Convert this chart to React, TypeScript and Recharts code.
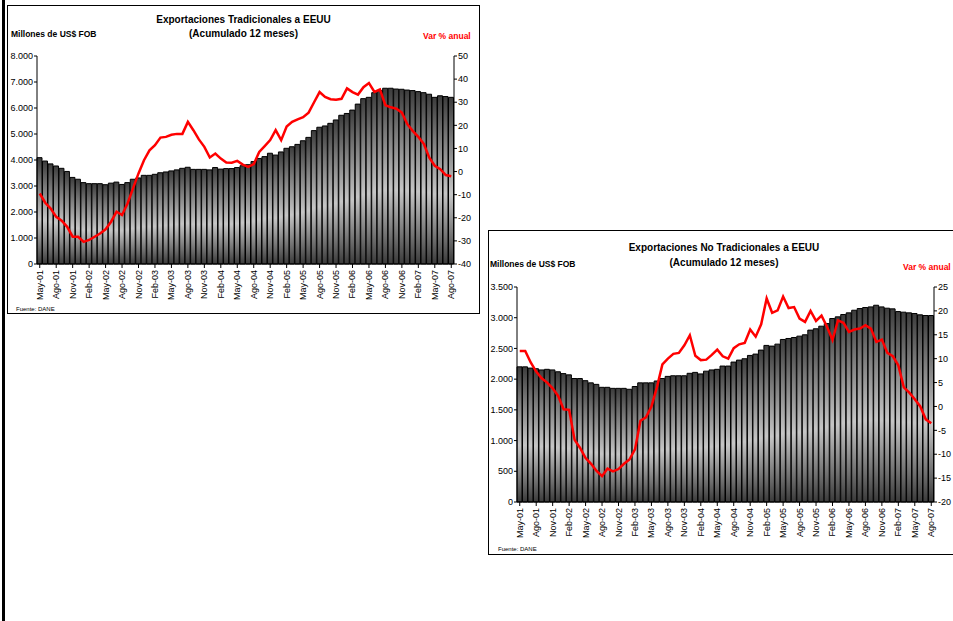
import React from 'react';
import { ComposedChart, Bar, Line, XAxis, YAxis } from 'recharts';

const meses = [
  'May-01', 'Jun-01', 'Jul-01', 'Ago-01', 'Sep-01', 'Oct-01', 'Nov-01', 'Dic-01',
  'Ene-02', 'Feb-02', 'Mar-02', 'Abr-02', 'May-02', 'Jun-02', 'Jul-02', 'Ago-02', 'Sep-02', 'Oct-02', 'Nov-02', 'Dic-02',
  'Ene-03', 'Feb-03', 'Mar-03', 'Abr-03', 'May-03', 'Jun-03', 'Jul-03', 'Ago-03', 'Sep-03', 'Oct-03', 'Nov-03', 'Dic-03',
  'Ene-04', 'Feb-04', 'Mar-04', 'Abr-04', 'May-04', 'Jun-04', 'Jul-04', 'Ago-04', 'Sep-04', 'Oct-04', 'Nov-04', 'Dic-04',
  'Ene-05', 'Feb-05', 'Mar-05', 'Abr-05', 'May-05', 'Jun-05', 'Jul-05', 'Ago-05', 'Sep-05', 'Oct-05', 'Nov-05', 'Dic-05',
  'Ene-06', 'Feb-06', 'Mar-06', 'Abr-06', 'May-06', 'Jun-06', 'Jul-06', 'Ago-06', 'Sep-06', 'Oct-06', 'Nov-06', 'Dic-06',
  'Ene-07', 'Feb-07', 'Mar-07', 'Abr-07', 'May-07', 'Jun-07', 'Jul-07', 'Ago-07',
];

// Exportaciones tradicionales (millones US$ FOB, acumulado 12 meses)
const tradValor = [
  4090, 3960, 3850, 3770, 3680, 3560, 3330, 3260, 3130, 3090, 3090, 3090, 3050, 3110, 3150, 3060,
  3130, 3260, 3310, 3410, 3410, 3450, 3510, 3540, 3580, 3620, 3680, 3720, 3640, 3640, 3640, 3620,
  3710, 3650, 3670, 3670, 3710, 3780, 3820, 3940, 4060, 4130, 4260, 4190, 4310, 4450, 4510, 4600,
  4740, 4870, 5130, 5260, 5310, 5410, 5540, 5720, 5790, 5920, 6150, 6360, 6410, 6590, 6670, 6760,
  6760, 6730, 6720, 6690, 6670, 6630, 6590, 6530, 6410, 6470, 6440, 6410,
];
const tradVar = [
  -9.5, -13.5, -16.0, -19.6, -21.3, -23.9, -28.2, -28.2, -30.4, -29.6, -28.2, -26.8, -25.0, -21.7, -17.4, -18.8,
  -13.8, -7.3, -0.8, 4.9, 9.2, 11.4, 14.7, 15.0, 15.9, 16.3, 16.3, 21.5, 17.9, 13.9, 10.7, 6.1,
  7.8, 5.6, 3.9, 3.8, 4.6, 3.0, 2.0, 3.2, 8.5, 11.0, 13.6, 17.9, 13.6, 19.5, 21.5, 22.6,
  23.5, 25.5, 30.0, 34.4, 32.3, 31.3, 31.1, 31.5, 36.0, 34.4, 33.3, 36.5, 38.3, 34.5, 35.5, 28.7,
  27.8, 27.2, 25.5, 20.5, 17.5, 15.0, 12.0, 6.0, 2.5, 1.0, -1.5, -2.0,
];

// Exportaciones no tradicionales
const noTradValor = [
  2200, 2200, 2180, 2170, 2150, 2160, 2150, 2120, 2090, 2070, 2010, 2010, 1975, 1940, 1915, 1867,
  1867, 1850, 1850, 1850, 1835, 1880, 1940, 1940, 1940, 1970, 2010, 2045, 2055, 2055, 2055, 2095,
  2110, 2085, 2130, 2150, 2160, 2213, 2213, 2278, 2310, 2332, 2386, 2408, 2473, 2549, 2538, 2570,
  2646, 2662, 2678, 2700, 2722, 2798, 2820, 2862, 2905, 2987, 3014, 3052, 3079, 3122, 3149, 3166,
  3176, 3203, 3176, 3155, 3144, 3100, 3090, 3079, 3068, 3047, 3036, 3036,
];
const noTradVar = [
  11.6, 11.6, 9.2, 7.3, 5.9, 5.0, 3.8, 2.2, -0.6, -0.7, -7.0, -8.7, -10.8, -12.0, -13.5, -14.6,
  -13.0, -13.6, -13.1, -12.0, -11.1, -9.0, -3.0, -2.3, 0.0, 4.0, 8.8, 10.0, 11.0, 11.2, 12.8, 14.9,
  10.6, 9.7, 9.8, 10.8, 11.9, 10.5, 10.0, 12.2, 13.0, 13.3, 16.1, 14.6, 17.2, 22.6, 19.6, 20.1,
  23.0, 20.6, 20.8, 18.4, 17.7, 20.0, 17.9, 19.0, 16.7, 13.9, 18.0, 17.5, 15.6, 16.1, 16.3, 17.0,
  16.3, 13.5, 14.0, 11.2, 10.5, 8.6, 4.0, 2.9, 1.5, 0.0, -2.7, -3.5,
];

const tradTicksIzq = [0, 1000, 2000, 3000, 4000, 5000, 6000, 7000, 8000];
const tradTicksDer = [-40, -30, -20, -10, 0, 10, 20, 30, 40, 50];
const noTradTicksIzq = [0, 500, 1000, 1500, 2000, 2500, 3000, 3500];
const noTradTicksDer = [-20, -15, -10, -5, 0, 5, 10, 15, 20, 25];

const FONT = 'Arial, "Liberation Sans", sans-serif';

const miles = (v: number) => String(v).replace(/\B(?=(\d{3})+(?!\d))/g, '.');

const MesTick = ({ x, y, payload }: any) => (
  <text
    x={x}
    y={y}
    transform={`rotate(-90 ${x} ${y})`}
    textAnchor="end"
    dominantBaseline="central"
    fontSize={9}
    fontFamily={FONT}
    fill="#000"
  >
    {payload.value}
  </text>
);

const abs = (left: number, top: number, extra: React.CSSProperties = {}): React.CSSProperties => ({
  position: 'absolute',
  left,
  top,
  fontFamily: FONT,
  whiteSpace: 'nowrap',
  ...extra,
});

interface GraficoProps {
  id: string;
  left: number;
  top: number;
  width: number;
  height: number;
  margin: { top: number; right: number; bottom: number; left: number };
  xHeight: number;
  valores: number[];
  variacion: number[];
  ticksIzq: number[];
  ticksDer: number[];
}

const Grafico = ({ id, left, top, width, height, margin, xHeight, valores, variacion, ticksIzq, ticksDer }: GraficoProps) => {
  const data = meses.map((mes, i) => ({ mes, valor: valores[i], var: variacion[i] }));
  const axisTick = { fontSize: 9, fill: '#000', fontFamily: FONT };
  return (
    <div style={{ position: 'absolute', left, top }}>
      <ComposedChart width={width} height={height} data={data} margin={margin} barCategoryGap={0} barGap={0}>
        <defs>
          <linearGradient id={id} x1="0" y1="0" x2="0" y2="1">
            <stop offset="0%" stopColor="#3c3c3c" />
            <stop offset="25%" stopColor="#7a7a7a" />
            <stop offset="58%" stopColor="#c6c6c6" />
            <stop offset="85%" stopColor="#6e6e6e" />
            <stop offset="100%" stopColor="#3a3a3a" />
          </linearGradient>
        </defs>
        <XAxis
          dataKey="mes"
          interval={2}
          tick={<MesTick />}
          tickSize={4}
          height={xHeight}
          axisLine={{ stroke: '#000' }}
          tickLine={{ stroke: '#000' }}
        />
        <YAxis
          yAxisId="izq"
          domain={[ticksIzq[0], ticksIzq[ticksIzq.length - 1]]}
          ticks={ticksIzq}
          tickFormatter={miles}
          width={25}
          tickSize={3}
          tickMargin={1}
          tick={axisTick}
          axisLine={{ stroke: '#000' }}
          tickLine={{ stroke: '#000' }}
          interval={0}
        />
        <YAxis
          yAxisId="der"
          orientation="right"
          domain={[ticksDer[0], ticksDer[ticksDer.length - 1]]}
          ticks={ticksDer}
          width={22}
          tickSize={3}
          tickMargin={1}
          tick={axisTick}
          axisLine={{ stroke: '#000' }}
          tickLine={{ stroke: '#000' }}
          interval={0}
        />
        <Bar yAxisId="izq" dataKey="valor" fill={`url(#${id})`} stroke="#000" strokeWidth={1} isAnimationActive={false} />
        <Line
          yAxisId="der"
          dataKey="var"
          type="linear"
          stroke="#ff0000"
          strokeWidth={2.5}
          dot={false}
          activeDot={false}
          isAnimationActive={false}
        />
      </ComposedChart>
    </div>
  );
};

const titulo: React.CSSProperties = { fontSize: 10, fontWeight: 'bold', lineHeight: '12px', textAlign: 'center' };
const eje: React.CSSProperties = { fontSize: 8.5, fontWeight: 'bold', lineHeight: '10px' };
const fuente: React.CSSProperties = { fontSize: 6, lineHeight: '8px' };

export default function App() {
  return (
    <div style={{ position: 'absolute', left: 0, top: 0, width: 953, height: 621, overflow: 'hidden', background: '#fff' }}>
      <div style={{ position: 'absolute', left: 2, top: 0, width: 3, height: 621, background: '#000' }} />

      {/* Tradicionales */}
      <div style={{ position: 'absolute', left: 7, top: 5, width: 473, height: 309, border: '1px solid #000', boxSizing: 'border-box' }} />
      <Grafico
        id="gradTrad"
        left={7}
        top={5}
        width={473}
        height={309}
        margin={{ top: 51, right: 4, bottom: 10, left: 5 }}
        xHeight={40}
        valores={tradValor}
        variacion={tradVar}
        ticksIzq={tradTicksIzq}
        ticksDer={tradTicksDer}
      />
      <div style={abs(7, 14, { ...titulo, width: 473 })}>Exportaciones Tradicionales a EEUU</div>
      <div style={abs(7, 28, { ...titulo, width: 473 })}>(Acumulado 12 meses)</div>
      <div style={abs(11, 29, eje)}>Millones de US$ FOB</div>
      <div style={abs(423, 31, { ...eje, color: '#ff0000' })}>Var % anual</div>
      <div style={abs(16, 305, fuente)}>Fuente: DANE</div>

      {/* No tradicionales */}
      <div style={{ position: 'absolute', left: 488, top: 230, width: 480, height: 325, border: '1px solid #000', boxSizing: 'border-box' }} />
      <Grafico
        id="gradNoTrad"
        left={488}
        top={230}
        width={472}
        height={325}
        margin={{ top: 57, right: 4, bottom: 11, left: 4 }}
        xHeight={42}
        valores={noTradValor}
        variacion={noTradVar}
        ticksIzq={noTradTicksIzq}
        ticksDer={noTradTicksDer}
      />
      <div style={abs(488, 242, { ...titulo, width: 472 })}>Exportaciones No Tradicionales a EEUU</div>
      <div style={abs(488, 257, { ...titulo, width: 472 })}>(Acumulado 12 meses)</div>
      <div style={abs(490, 259, eje)}>Millones de US$ FOB</div>
      <div style={abs(903, 262, { ...eje, color: '#ff0000' })}>Var % anual</div>
      <div style={abs(498, 545, fuente)}>Fuente: DANE</div>
    </div>
  );
}
